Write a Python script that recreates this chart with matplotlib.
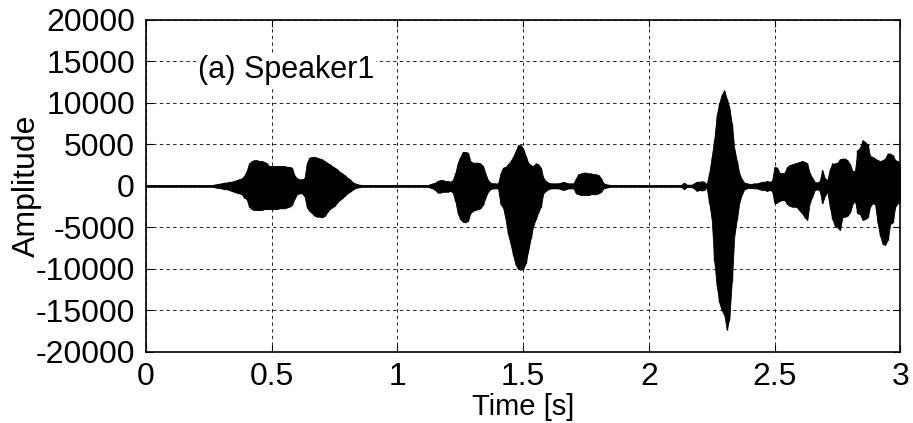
import numpy as np
import matplotlib.pyplot as plt

plt.rcParams['font.family'] = ['Liberation Sans', 'DejaVu Sans']
plt.rcParams['axes.unicode_minus'] = False

# envelope of the speech waveform, sampled every 10 ms (0.00 .. 3.00 s)
time_s = np.arange(301) / 100.0

upper = [
    100, 100, 100, 100, 100, 100, 100, 100, 100, 100,            # 0.0
    100, 100, 100, 100, 100, 100, 100, 100, 100, 100,            # 0.1
    100, 100, 100, 100, 100, 100, 100, 150, 200, 250,            # 0.2
    300, 400, 400, 500, 500, 600, 700, 800, 900, 1200,           # 0.3
    1800, 2700, 3000, 3100, 3100, 3000, 3000, 2900, 2700, 2400,  # 0.4
    2400, 2400, 2400, 2400, 2400, 2400, 2300, 2300, 2200, 1300,  # 0.5
    900, 800, 800, 900, 2800, 3400, 3500, 3500, 3400, 3300,      # 0.6
    3200, 3000, 2800, 2600, 2400, 2200, 2000, 1700, 1500, 1300,  # 0.7
    1000, 800, 500, 300, 200, 150, 100, 100, 100, 100,           # 0.8
    100, 100, 100, 100, 100, 100, 100, 100, 100, 100,            # 0.9
    100, 100, 100, 100, 100, 100, 100, 100, 100, 100,            # 1.0
    100, 100, 100, 200, 300, 400, 600, 700, 700, 600,            # 1.1
    600, 500, 700, 1500, 2800, 3500, 4100, 4100, 4000, 3000,     # 1.2
    2800, 2800, 2800, 2700, 2400, 1500, 700, 400, 300, 300,      # 1.3
    300, 1500, 2200, 2300, 2600, 3000, 3500, 4200, 4900, 4900,   # 1.4
    4500, 3600, 2800, 2500, 2400, 2700, 2600, 2200, 1000, 600,   # 1.5
    400, 300, 300, 300, 300, 400, 500, 400, 300, 300,            # 1.6
    300, 900, 1400, 1500, 1600, 1600, 1500, 1500, 1400, 1400,    # 1.7
    1300, 900, 300, 200, 150, 100, 100, 100, 100, 100,           # 1.8
    100, 100, 100, 100, 100, 100, 100, 100, 100, 100,            # 1.9
    100, 100, 100, 100, 100, 100, 100, 100, 100, 100,            # 2.0
    100, 100, 100, 150, 400, 150, 150, 150, 300, 500,            # 2.1
    500, 550, 500, 200, 1500, 3500, 5500, 8500, 10000, 11000,    # 2.2
    11500, 10500, 9500, 7500, 4500, 3000, 1500, 800, 400, 300,   # 2.3
    250, 250, 300, 300, 400, 500, 500, 600, 500, 600,            # 2.4
    2300, 2200, 1600, 1500, 1600, 2300, 2500, 2600, 2700, 2800,  # 2.5
    2900, 3000, 2900, 2700, 1500, 1000, 500, 400, 600, 1900,     # 2.6
    900, 700, 2000, 2700, 2700, 2800, 3200, 3300, 3300, 3100,    # 2.7
    2600, 1800, 1800, 4300, 4600, 5500, 5300, 5000, 3600, 3500,  # 2.8
    3300, 3100, 3000, 3100, 3300, 3900, 3900, 3700, 3100, 3000,  # 2.9
    2500,
]

lower = [
    -100, -100, -100, -100, -100, -100, -100, -100, -100, -100,
    -100, -100, -100, -100, -100, -100, -100, -100, -100, -100,
    -100, -100, -100, -100, -100, -100, -100, -150, -200, -250,
    -300, -400, -400, -500, -600, -700, -800, -900, -1000, -1400,
    -1600, -2500, -2800, -2900, -2900, -2900, -2900, -2800, -2800, -2800,
    -2800, -2800, -2800, -2700, -2700, -2700, -2600, -2500, -2300, -1600,
    -1000, -900, -900, -1200, -2600, -3000, -3300, -3600, -3700, -3700,
    -3800, -3600, -3200, -2800, -2600, -2400, -2000, -1700, -1500, -1200,
    -900, -700, -500, -300, -200, -150, -100, -100, -100, -100,
    -100, -100, -100, -100, -100, -100, -100, -100, -100, -100,
    -100, -100, -100, -100, -100, -100, -100, -100, -100, -100,
    -100, -100, -100, -200, -300, -500, -800, -800, -700, -700,
    -700, -600, -800, -1800, -3300, -4000, -4300, -4400, -4200, -3300,
    -3000, -2900, -2800, -2700, -2300, -1400, -700, -400, -300, -300,
    -300, -2200, -2600, -4000, -5800, -7000, -8300, -9500, -10000, -10100,
    -10000, -9300, -7800, -6300, -4800, -4000, -3200, -2500, -900, -600,
    -400, -300, -300, -300, -300, -400, -500, -400, -300, -300,
    -300, -900, -1000, -1100, -1100, -1100, -1100, -1000, -1000, -1000,
    -900, -700, -300, -200, -150, -100, -100, -100, -100, -100,
    -100, -100, -100, -100, -100, -100, -100, -100, -100, -100,
    -100, -100, -100, -100, -100, -100, -100, -100, -100, -100,
    -100, -100, -100, -150, -400, -150, -150, -150, -300, -600,
    -500, -550, -500, -200, -2000, -4000, -9000, -12000, -14000, -15000,
    -15500, -17300, -16000, -11500, -6000, -4000, -2000, -1000, -400, -300,
    -250, -250, -300, -300, -400, -500, -500, -600, -500, -600,
    -2100, -2000, -1800, -1700, -1700, -2200, -2400, -2500, -2500, -2600,
    -3000, -3300, -3800, -4100, -2000, -1300, -500, -400, -600, -2100,
    -1200, -700, -2500, -4000, -4800, -5000, -5300, -3800, -3700, -3600,
    -3200, -2200, -1800, -3300, -3400, -4100, -4000, -3800, -2500, -2100,
    -2200, -4500, -6000, -7000, -7100, -6500, -4600, -4400, -2500, -2100,
    -2000,
]

x_ticks = [0, 0.5, 1, 1.5, 2, 2.5, 3]
x_tick_labels = ['0', '0.5', '1', '1.5', '2', '2.5', '3']
y_ticks = [-20000, -15000, -10000, -5000, 0, 5000, 10000, 15000, 20000]


def main():
    fig = plt.figure(figsize=(9.13, 4.23), dpi=100)
    ax = fig.add_axes([0.160, 0.168, 0.826, 0.785])

    ax.fill_between(time_s, lower, upper, color='black', linewidth=0.6)
    ax.vlines(time_s, lower, upper, color='black', linewidth=1.0)

    ax.set_xlim(0, 3)
    ax.set_ylim(-20000, 20000)
    ax.set_xticks(x_ticks)
    ax.set_xticklabels(x_tick_labels)
    ax.set_yticks(y_ticks)

    ax.tick_params(direction='in', length=5, width=0.8, labelsize=23,
                   top=True, right=True)
    ax.tick_params(axis='y', pad=8)
    ax.tick_params(axis='x', pad=7)
    ax.grid(True, color='black', linestyle=(0, (4, 4)), linewidth=0.6)
    for sp in ax.spines.values():
        sp.set_linewidth(1.2)

    ax.set_xlabel('Time [s]', fontsize=21, labelpad=1)
    ax.set_ylabel('Amplitude', fontsize=23)
    ax.yaxis.set_label_coords(-0.138, 0.5)
    ax.text(0.205, 13000, '(a) Speaker1', fontsize=22,
            bbox=dict(facecolor='white', edgecolor='none', pad=1))

    fig.savefig('out.png', dpi=100)


if __name__ == "__main__":
    main()
